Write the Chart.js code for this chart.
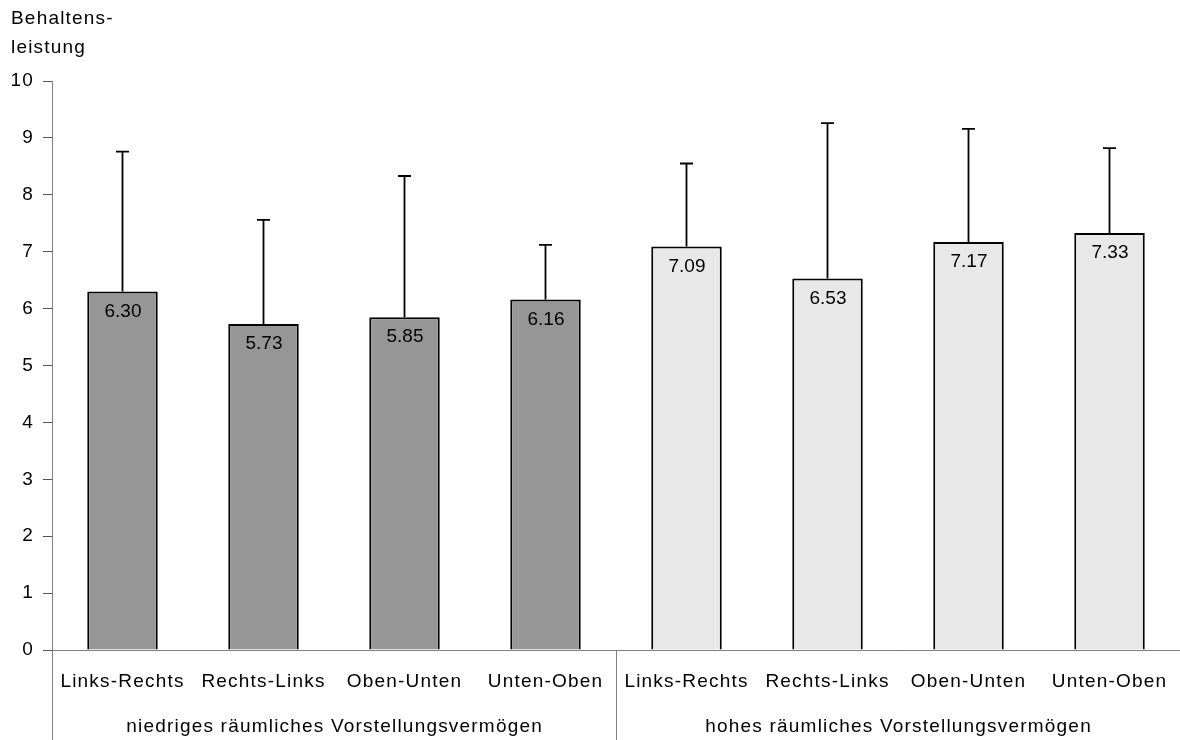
<!DOCTYPE html>
<html>
<head>
<meta charset="utf-8">
<script src="https://cdn.jsdelivr.net/npm/chart.js@4/dist/chart.umd.min.js"></script>
<style>
  html, body { margin: 0; padding: 0; background: #fff; overflow: hidden; }
  #wrap { width: 1180px; height: 740px; position: relative; }
</style>
</head>
<body>
<div id="wrap"><canvas id="behaltChart"></canvas></div>
<script>
// Daten aus der Abbildung
const kategorien = ['Links-Rechts', 'Rechts-Links', 'Oben-Unten', 'Unten-Oben',
                    'Links-Rechts', 'Rechts-Links', 'Oben-Unten', 'Unten-Oben'];
const gruppen = ['niedriges räumliches Vorstellungsvermögen', 'hohes räumliches Vorstellungsvermögen'];
const mittelwerte = [6.30, 5.73, 5.85, 6.16, 7.09, 6.53, 7.17, 7.33];
const streuung = [2.46, 1.83, 2.48, 0.96, 1.46, 2.73, 1.99, 1.49];
const yTicks = [0, 1, 2, 3, 4, 5, 6, 7, 8, 9, 10];
const titelZeilen = ['Behaltens-', 'leistung'];

const FONT = 'Arial, "Liberation Sans", sans-serif';
const SPACING = '1.2px';
const farben = mittelwerte.map((v, i) => i < 4 ? '#969696' : '#e8e8e8');

// Fehlerbalken, Wertbeschriftungen, Gruppenbeschriftungen
const extras = {
    id: 'extras',
    beforeUpdate(chart) { chart.ctx.letterSpacing = SPACING; },
    beforeDraw(chart) { chart.ctx.letterSpacing = SPACING; },
    afterDatasetsDraw(chart) {
        const ctx = chart.ctx;
        const y = chart.scales.y;
        const meta = chart.getDatasetMeta(0);
        ctx.save();
        ctx.letterSpacing = '0px';
        meta.data.forEach((bar, i) => {
            const top = y.getPixelForValue(mittelwerte[i] + streuung[i]);
            ctx.strokeStyle = '#000';
            ctx.lineWidth = 1.8;
            ctx.beginPath();
            ctx.moveTo(bar.x, bar.y);
            ctx.lineTo(bar.x, top);
            ctx.moveTo(bar.x - 6.5, top);
            ctx.lineTo(bar.x + 6.5, top);
            ctx.stroke();

            ctx.fillStyle = '#000';
            ctx.font = '19px ' + FONT;
            ctx.textAlign = 'center';
            ctx.textBaseline = 'middle';
            ctx.fillText(mittelwerte[i].toFixed(2), bar.x + 0.5, bar.y + 20);
        });
        ctx.restore();
    },
    afterDraw(chart) {
        const ctx = chart.ctx;
        const x = chart.scales.x;
        const area = chart.chartArea;
        const half = (x.getPixelForValue(1) - x.getPixelForValue(0)) / 2;
        ctx.save();
        ctx.letterSpacing = SPACING;
        // Trennlinien unter der Achse
        ctx.strokeStyle = '#808080';
        ctx.lineWidth = 1;
        [0, 4, 8].forEach(i => {
            const px = Math.round(x.getPixelForValue(i) - half) + 0.5;
            ctx.beginPath();
            ctx.moveTo(px, area.bottom);
            ctx.lineTo(px, chart.height);
            ctx.stroke();
        });
        ctx.fillStyle = '#000';
        ctx.font = '19px ' + FONT;
        ctx.textAlign = 'center';
        ctx.textBaseline = 'middle';
        gruppen.forEach((g, k) => {
            const cx = (x.getPixelForValue(k * 4) + x.getPixelForValue(k * 4 + 3)) / 2;
            ctx.fillText(g, cx + 0.6, 727);
        });
        // Achsentitel
        ctx.textAlign = 'left';
        titelZeilen.forEach((t, k) => ctx.fillText(t, 11, 19 + k * 28.5));
        ctx.restore();
    }
};

new Chart(document.getElementById('behaltChart'), {
    type: 'bar',
    data: {
        labels: kategorien,
        datasets: [{
            data: mittelwerte,
            backgroundColor: farben,
            borderColor: '#000',
            borderWidth: 2,
            barPercentage: 0.5,
            categoryPercentage: 1.0
        }]
    },
    options: {
        responsive: true,
        maintainAspectRatio: false,
        animation: false,
        layout: { padding: { top: 81, right: 0, left: 0, bottom: 0 } },
        plugins: { legend: { display: false }, tooltip: { enabled: false } },
        scales: {
            x: {
                offset: true,
                grid: { display: false, drawTicks: false },
                border: { display: true, color: '#808080', width: 1 },
                ticks: {
                    color: '#000',
                    font: { family: FONT, size: 19 },
                    padding: 20,
                    maxRotation: 0,
                    autoSkip: false
                },
                afterFit(scale) {
                    scale.height = 90;
                    scale.paddingLeft = 0;
                    scale.paddingRight = 0;
                }
            },
            y: {
                min: 0,
                max: 10,
                afterBuildTicks(scale) { scale.ticks = yTicks.map(v => ({ value: v })); },
                grid: {
                    drawOnChartArea: false,
                    drawTicks: true,
                    tickLength: 9,
                    tickColor: '#555',
                    color: '#808080'
                },
                border: { display: true, color: '#808080', width: 1 },
                ticks: {
                    color: '#000',
                    font: { family: FONT, size: 19 },
                    padding: 9
                },
                afterFit(scale) {
                    scale.width = 52;
                    scale.paddingTop = 0;
                    scale.paddingBottom = 0;
                }
            }
        }
    },
    plugins: [extras]
});
</script>
</body>
</html>
